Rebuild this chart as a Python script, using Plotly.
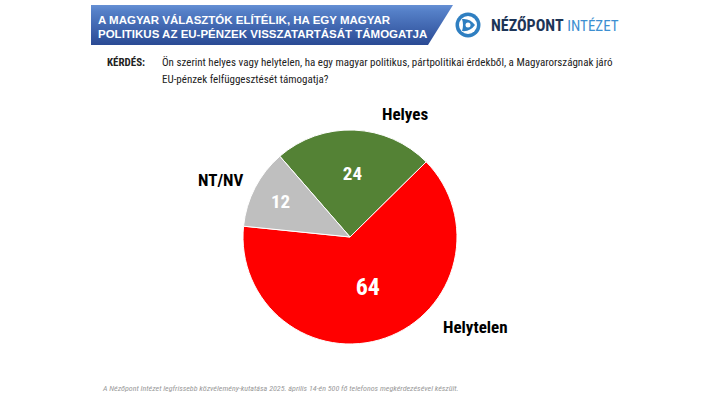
import plotly.graph_objects as go

W, H = 728, 397

categories = ["Helyes", "Helytelen", "NT/NV"]
values = [24, 64, 12]
colors = ["#548235", "#FF0000", "#BFBFBF"]
value_font_sizes = [19, 24, 19]

title_lines = ["A MAGYAR VÁLASZTÓK ELÍTÉLIK, HA EGY MAGYAR",
               "POLITIKUS AZ EU-PÉNZEK VISSZATARTÁSÁT TÁMOGATJA"]
question_label = "KÉRDÉS:"
question_lines = ["Ön szerint helyes vagy helytelen, ha egy magyar politikus, pártpolitikai érdekből, a Magyarországnak járó",
                  "EU-pénzek felfüggesztését támogatja?"]
footer = "A Nézőpont Intézet legfrissebb közvélemény-kutatása 2025. április 14-én 500 fő telefonos megkérdezésével készült."

NARROW = "Liberation Sans Narrow, Arial Narrow, Roboto Condensed, Liberation Sans, Arial, sans-serif"
SANS = "Liberation Sans, Arial, sans-serif"

cx, cy, R = 350, 237, 107

fig = go.Figure()

fig.add_trace(go.Pie(
    labels=categories, values=values, sort=False, direction="clockwise",
    rotation=-41,
    marker=dict(colors=colors, line=dict(color="white", width=1)),
    textinfo="value", textposition="inside", insidetextorientation="horizontal",
    insidetextfont=dict(color="white", size=value_font_sizes, family=NARROW, weight="bold"),
    hoverinfo="label+value", showlegend=False,
    domain=dict(x=[(cx - R) / W, (cx + R) / W], y=[(H - cy - R) / H, (H - cy + R) / H]),
))

# banner with vertical gradient (pixel coordinates through hidden axes)
fig.add_trace(go.Scatter(
    x=[91, 453, 428, 91, 91], y=[5, 5, 45, 45, 5], mode="lines", fill="toself",
    line=dict(width=0, color="rgba(0,0,0,0)"),
    fillgradient=dict(type="vertical", start=5, stop=45,
                      colorscale=[[0, "#6690d4"], [0.15, "#5580c8"], [1, "#2a4a94"]]),
    hoverinfo="skip", showlegend=False,
))

fig.update_layout(
    width=W, height=H, margin=dict(l=0, r=0, t=0, b=0),
    paper_bgcolor="white", plot_bgcolor="rgba(0,0,0,0)",
    xaxis=dict(range=[0, W], visible=False, fixedrange=True, domain=[0, 1]),
    yaxis=dict(range=[H, 0], visible=False, fixedrange=True, domain=[0, 1]),
)

annotations = []
for i, line in enumerate(title_lines):
    annotations.append(dict(x=96, y=20 + i * 14, xref="x", yref="y", text=line, showarrow=False,
                            xanchor="left", yanchor="middle",
                            font=dict(family=SANS, size=11.5, color="white", weight="bold")))

annotations.append(dict(x=105, y=62, xref="x", yref="y", text=question_label, showarrow=False,
                        xanchor="left", yanchor="middle",
                        font=dict(family=NARROW, size=11, color="#222", weight="bold")))
for i, line in enumerate(question_lines):
    annotations.append(dict(x=160, y=62 + i * 17, xref="x", yref="y", text=line, showarrow=False,
                            xanchor="left", yanchor="middle",
                            font=dict(family=NARROW, size=11, color="#222")))

annotations.append(dict(x=100, y=388, xref="x", yref="y", text="<i>" + footer + "</i>", showarrow=False,
                        xanchor="left", yanchor="middle",
                        font=dict(family=NARROW, size=8, color="#999999")))

# logo text
annotations.append(dict(x=489, y=25, xref="x", yref="y",
                        text="<b><span style='color:#1d3557'>NÉZŐPONT</span></b> <span style='color:#3d8fd1;font-size:15px'>INTÉZET</span>",
                        showarrow=False, xanchor="left", yanchor="middle",
                        font=dict(family=NARROW, size=16)))

# category labels outside the pie
label_pos = {"Helyes": (405, 114), "Helytelen": (475, 327), "NT/NV": (220, 180)}
for c in categories:
    lx, ly = label_pos[c]
    annotations.append(dict(x=lx, y=ly, xref="x", yref="y", text=c, showarrow=False,
                            xanchor="center", yanchor="middle",
                            font=dict(family=NARROW, size=17, color="black", weight="bold")))

fig.update_layout(annotations=annotations)

# logo icon
lx, ly = 468, 25
shapes = [
    dict(type="circle", xref="x", yref="y", x0=lx - 12.5, x1=lx + 12.5, y0=ly - 12.5, y1=ly + 12.5,
         fillcolor="#2f7fc1", line=dict(width=0)),
    dict(type="circle", xref="x", yref="y", x0=lx - 9, x1=lx + 9, y0=ly - 9, y1=ly + 9,
         fillcolor="white", line=dict(width=0)),
    dict(type="path", xref="x", yref="y",
         path=f"M {lx-6},{ly-6} Q {lx+2},{ly-7} {lx+7},{ly} Q {lx+2},{ly+7} {lx-6},{ly+6} Q {lx-4},{ly} {lx-6},{ly-6} Z",
         fillcolor="#2f7fc1", line=dict(width=0)),
    dict(type="circle", xref="x", yref="y", x0=lx - 2.5, x1=lx + 2.5, y0=ly - 2.5, y1=ly + 2.5,
         fillcolor="white", line=dict(width=0)),
]
fig.update_layout(shapes=shapes)

fig.write_html("out.html", config={"displayModeBar": False},
               post_script="document.body.style.margin='0';")
